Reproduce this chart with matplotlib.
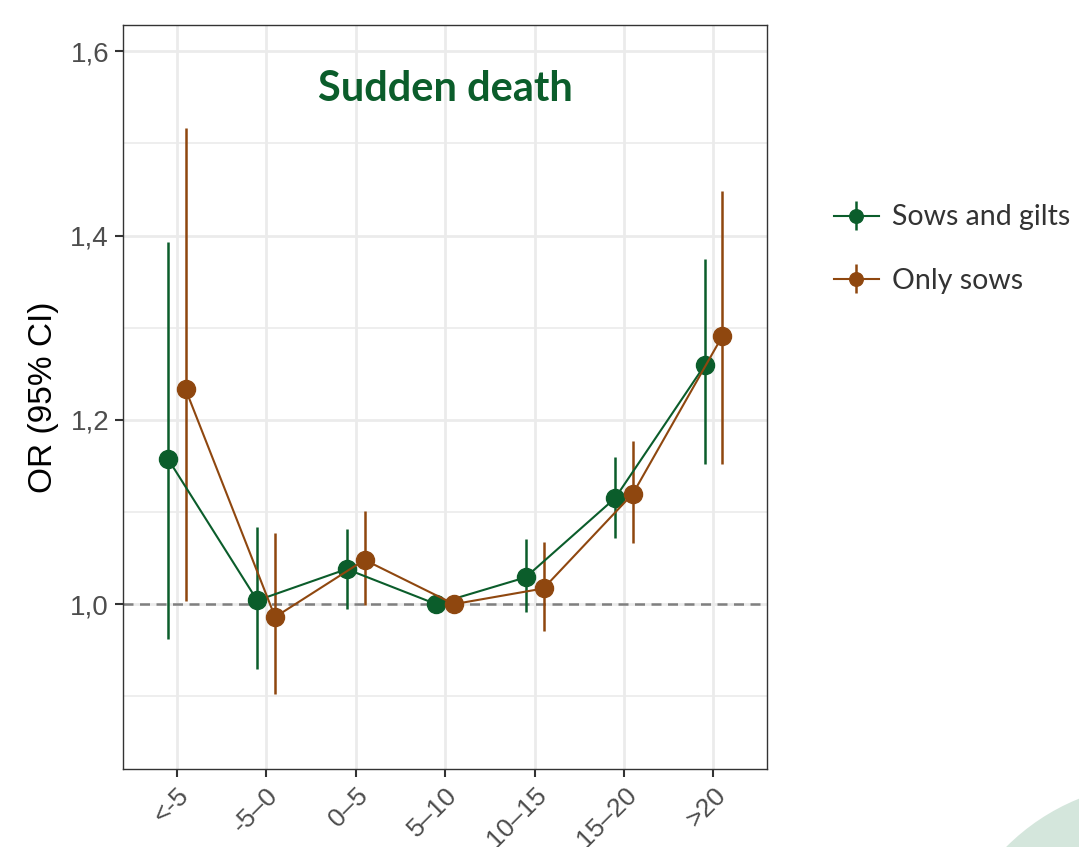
import matplotlib
matplotlib.use("Agg")
import matplotlib.pyplot as plt
from matplotlib.patches import Circle
from matplotlib.ticker import FixedLocator, FuncFormatter

categories = ["<-5", "-5\u20130", "0\u20135", "5\u201310", "10\u201315", "15\u201320", ">20"]

sg_or = [1.158, 1.004, 1.038, 1.000, 1.029, 1.115, 1.259]
sg_lo = [0.962, 0.930, 0.995, 1.000, 0.991, 1.072, 1.152]
sg_hi = [1.393, 1.084, 1.082, 1.000, 1.071, 1.160, 1.375]

os_or = [1.233, 0.986, 1.048, 1.000, 1.017, 1.120, 1.291]
os_lo = [1.003, 0.902, 0.999, 1.000, 0.971, 1.066, 1.152]
os_hi = [1.517, 1.077, 1.101, 1.000, 1.067, 1.177, 1.448]

GREEN = "#0b5d2b"
BROWN = "#8f470f"

fig = plt.figure(figsize=(10.79, 8.47), dpi=100)
ax = fig.add_axes([0.114, 0.092, 0.597, 0.878])

# decorative circle bottom right
fig.patches.append(Circle((11.6, -1.53), 2.17, transform=fig.dpi_scale_trans,
                          facecolor="#d4e6dc", edgecolor="none", zorder=0))

x = list(range(1, len(categories) + 1))
dodge = 0.1

ax.axhline(1.0, color="#808080", ls=(0, (4, 2.6)), lw=1.8, zorder=1)

for vals, lo, hi, col, sh, lbl in [
    (sg_or, sg_lo, sg_hi, GREEN, -dodge, "Sows and gilts"),
    (os_or, os_lo, os_hi, BROWN, dodge, "Only sows"),
]:
    xs = [xi + sh for xi in x]
    err = [[v - l for v, l in zip(vals, lo)], [h - v for v, h in zip(vals, hi)]]
    ax.errorbar(xs, vals, yerr=err, fmt="-o", color=col, ms=13, lw=1.5, elinewidth=1.8,
                capsize=0, zorder=3, label=lbl)

ax.set_xlim(0.4, 7.6)
ax.set_ylim(0.821, 1.628)
ax.set_xticks(x)
ax.set_xticklabels(categories, rotation=45, ha="right", rotation_mode="anchor",
                   fontsize=19, color="#4d4d4d", family="Liberation Sans")
ax.yaxis.set_major_locator(FixedLocator([1.0, 1.2, 1.4, 1.6]))
ax.yaxis.set_minor_locator(FixedLocator([0.9, 1.1, 1.3, 1.5]))
ax.yaxis.set_major_formatter(FuncFormatter(lambda v, p: f"{v:.1f}".replace(".", ",")))
for t in ax.get_yticklabels():
    t.set_fontsize(20)
    t.set_color("#4d4d4d")
    t.set_family("Liberation Sans")
ax.tick_params(axis="both", which="major", length=6, width=1.5, color="#333333", pad=4)
ax.tick_params(axis="y", which="minor", length=0)
ax.grid(True, which="major", color="#ebebeb", lw=2)
ax.grid(True, which="minor", axis="y", color="#ebebeb", lw=1.2)
ax.set_axisbelow(True)
for s in ax.spines.values():
    s.set_color("#333333")
    s.set_linewidth(1.0)

ax.set_ylabel("OR (95% CI)", fontsize=24, family="Liberation Sans", labelpad=8)
ax.text(0.5, 0.915, "Sudden death", transform=ax.transAxes, ha="center", va="center",
        fontsize=30, fontweight="bold", color=GREEN, family="Lato")

leg = ax.legend(loc="center left", bbox_to_anchor=(808 / 1079, 1 - 249 / 847),
                bbox_transform=fig.transFigure, frameon=False,
                prop={"family": "Lato", "size": 20.5}, markerscale=0.75,
                handlelength=1.6, handletextpad=0.45, labelspacing=1.3)
for t in leg.get_texts():
    t.set_color("#333333")

fig.savefig("out.png", dpi=100)
